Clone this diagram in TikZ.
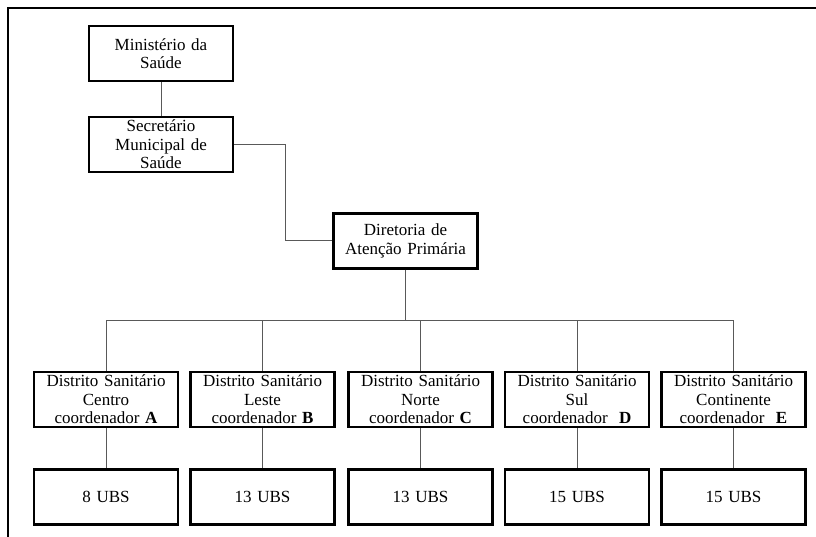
\documentclass[tikz,border=0pt]{standalone}
\usepackage{fontspec}
\setmainfont[WordSpace={0.45,0.2,0.1}]{Liberation Serif}
\begin{document}
\begin{tikzpicture}[x=1pt,y=-1pt,
  box/.style={draw=black, line width=2.3pt, minimum width=144pt, minimum height=55pt,
    inner sep=0pt, text width=142pt, align=center,
    font=\fontsize{17pt}{18.5pt}\selectfont},
  link/.style={draw=black!65, line width=1pt}]
\useasboundingbox (0,0) rectangle (816,537);
\clip (0,0) rectangle (816,537);
% outer frame, running past the right and lower edges
\draw[line width=2pt] (8,8) rectangle (840,560);

% upper levels
\node[box] (min) at (161,53.5) {Ministério da\\Saúde};
\node[box] (sec) at (161,144.5) {Secretário\\Municipal de\\Saúde};
\node[box] (dir) at (405.5,241) {Diretoria de\\Atenção Primária};

% sanitary districts
\node[box] (d1) at (106,399.5) {Distrito Sanitário\\Centro\\coordenador \textbf{A}};
\node[box] (d2) at (262.5,399.5) {Distrito Sanitário\\Leste\\coordenador \textbf{B}};
\node[box] (d3) at (420.5,399.5) {Distrito Sanitário\\Norte\\coordenador \textbf{C}};
\node[box] (d4) at (577,399.5) {Distrito Sanitário\\Sul\\coordenador\ \ \textbf{D}};
\node[box] (d5) at (733.5,399.5) {Distrito Sanitário\\Continente\\coordenador\ \ \textbf{E}};

% health units per district
\node[box] (u1) at (106,497) {8 UBS};
\node[box] (u2) at (262.5,497) {13 UBS};
\node[box] (u3) at (420.5,497) {13 UBS};
\node[box] (u4) at (577,497) {15 UBS};
\node[box] (u5) at (733.5,497) {15 UBS};

% connectors
\coordinate (bus) at (405.5,320);
\draw[link] (min.south) -- (sec.north);
\draw[link] (sec.east) -- ++(51,0) |- (dir.west);
\draw[link] (dir.south) -- (bus);
\draw[link] (d1.north) -- (d1.north |- bus) -- (d5.north |- bus) -- (d5.north);
\foreach \k in {2,3,4} \draw[link] (d\k.north) -- (d\k.north |- bus);
\foreach \k in {1,...,5} \draw[link] (d\k.south) -- (u\k.north);
\end{tikzpicture}
\end{document}
